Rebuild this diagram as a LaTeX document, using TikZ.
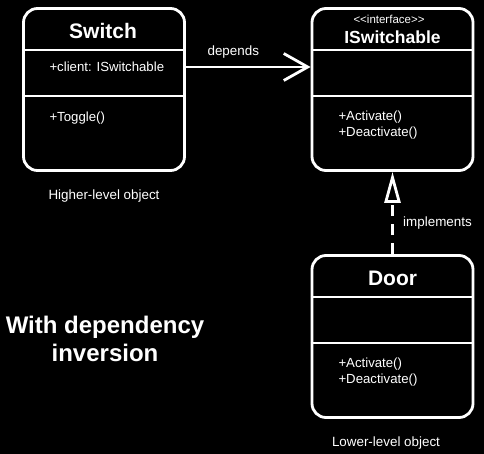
\documentclass[tikz,border=0pt]{standalone}
\usepackage{fontspec}
\setmainfont{Liberation Sans}
\usetikzlibrary{positioning, arrows.meta, calc}

\begin{document}
\begin{tikzpicture}[x=1pt, y=-1pt,
    umlbox/.style={draw=white, line width=2.8pt, rounded corners=14pt,
      minimum width=161pt, minimum height=162pt},
    divider/.style={white, line width=1.8pt},
    title/.style={text=white, font=\bfseries\fontsize{21}{24}\selectfont},
    member/.style={text=white, anchor=west, align=left,
      font=\fontsize{13.2}{15.5}\selectfont},
    note/.style={text=white, font=\fontsize{13.4}{16}\selectfont}]
    % Background
    \fill[black] (0,0) rectangle (484,454);
    \useasboundingbox (0,0) rectangle (484,454);

    % Classes
    \node[umlbox] (switch) at (104, 89.5) {};
    \node[umlbox] (iswitch) at (392.5, 89.5) {};
    \node[umlbox] (door) at (392.5, 336.5) {};

    % Compartments
    \foreach \cls in {switch, iswitch, door} {
      \draw[divider] ($(\cls.north west)+(0,43)$) -- ($(\cls.north east)+(0,43)$);
      \draw[divider] ($(\cls.north west)+(0,89)$) -- ($(\cls.north east)+(0,89)$);
    }

    % Switch
    \node[title] (switchname) at (103, 31) {Switch};
    \node[member] (switchattr) at (46, 67) {+client: ISwitchable};
    \node[member] (switchop) at (46, 118) {+Toggle()};
    \node[note] (higher) at (104, 196) {Higher-level object};

    % ISwitchable
    \node[text=white, font=\fontsize{11.5}{13}\selectfont] (stereo) at (389, 19) {<{}<interface>{}>};
    \node[title, font=\bfseries\fontsize{17.5}{20}\selectfont] (iswitchname) at (392.5, 37) {ISwitchable};
    \node[member] (iswitchop) at (335, 125) {+Activate()\\+Deactivate()};

    % Door
    \node[title] (doorname) at (392.5, 278) {Door};
    \node[member] (doorop) at (335, 372) {+Activate()\\+Deactivate()};
    \node[note] (lower) at (386, 443) {Lower-level object};

    % Relations
    \draw[white, line width=2.8pt, -{Straight Barb[length=24pt, width=27pt]}]
      (switch.east |- switchattr) -- (iswitch.west |- switchattr)
      node[pos=0.38, above=4pt, note] {depends};
    \draw[white, line width=2.8pt, dash pattern=on 11pt off 8pt,
      -{Triangle[open, length=31pt, width=16pt, fill=black]}]
      (door.north) -- (iswitch.south)
      node[pos=0.38, right=6pt, note] {implements};

    % Caption
    \node[text=white, align=center, font=\bfseries\fontsize{24}{28}\selectfont]
      (caption) at (105, 339) {With dependency\\inversion};
\end{tikzpicture}
\end{document}
